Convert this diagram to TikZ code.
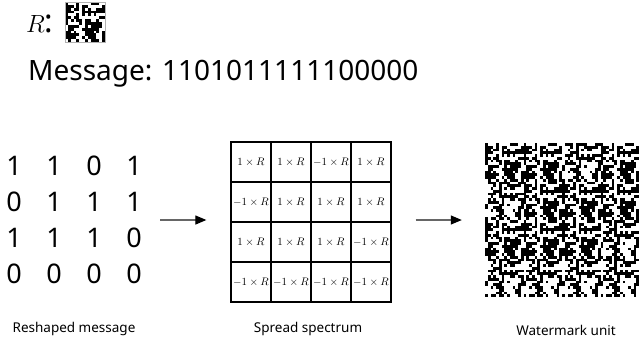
\documentclass[tikz,border=0pt]{standalone}
\usepackage{fontspec}
\setmainfont{Noto Sans}
\usetikzlibrary{arrows.meta}

% message bits, one row of the reshaped 4x4 block per entry
\newcommand{\bitrows}{{1,1,0,1},{0,1,1,1},{1,1,1,0},{0,0,0,0}}

\tikzset{
  digit/.style={font=\fontsize{27}{32}\selectfont, inner sep=0pt},
  cellbox/.style={draw, line width=1.3pt, minimum size=40pt, inner sep=0pt, font=\fontsize{11}{13}\selectfont},
  caption/.style={font=\fontsize{13.5}{16}\selectfont},
  arr/.style={draw=black!60, line width=1.2pt, -{Triangle[length=11pt,width=9pt,color=black]}}
}

\begin{document}
\begin{tikzpicture}[x=1pt,y=-1pt]
  \useasboundingbox (0,0) rectangle (639,341);

  % random pattern R (14x14)
  \pgfmathsetseed{4711}
  \foreach \i in {0,...,13}{
    \foreach \j in {0,...,13}{
      \pgfmathrandominteger{\rbit}{0}{1}
      \expandafter\xdef\csname rbit-\i-\j\endcsname{\rbit}
    }
  }

  % top lines
  \node[anchor=base west, inner sep=0pt, font=\fontsize{32}{36}\selectfont] (rlabel) at (26,32) {$R$:};
  \node[anchor=base west, inner sep=0pt, font=\fontsize{28}{33}\selectfont] (message) at (28,80) {Message: 1101011111100000};
  \foreach \i in {0,...,13}
    \foreach \j in {0,...,13}{
      \ifnum\csname rbit-\i-\j\endcsname=1
        \fill (65+2.857*\j,2+2.857*\i) rectangle ++(2.91,2.91);
      \fi
    }
  \draw[black!30, line width=0.5pt] (65,2) rectangle (105,42);

  % reshaped message and spread spectrum
  \foreach \brow [count=\ti from 0] in \bitrows {
    \foreach \m [count=\tj from 0] in \brow {
      \node[digit] (d-\ti-\tj) at (14+40*\tj,166+36*\ti) {\m};
      \node[cellbox] (c-\ti-\tj) at (251+40*\tj,162+40*\ti)
        {\ifnum\m=1 $1\times R$\else $-1\times R$\fi};
    }
  }
  \node[draw, line width=1.3pt, minimum size=160pt, inner sep=0pt] (spread) at (311,222) {};

  % watermark unit: R tiled, inverted where the bit is 0
  \node[minimum size=154pt, inner sep=0pt] (wm) at (562,220) {};
  \foreach \brow [count=\ti from 0] in \bitrows {
    \foreach \m [count=\tj from 0] in \brow {
      \foreach \i in {0,...,13}
        \foreach \j in {0,...,13}{
          \ifnum\csname rbit-\i-\j\endcsname=\m\relax
            \fill (485+38.5*\tj+2.75*\j,143+38.5*\ti+2.75*\i) rectangle ++(2.8,2.8);
          \fi
        }
    }
  }

  % arrows
  \coordinate (msgend) at (160,220);
  \draw[arr, shorten >=24pt] (msgend) -- (msgend -| spread.west);
  \draw[arr, shorten <=24pt, shorten >=23pt] (wm.west -| spread.east) -- (wm.west);

  % captions
  \node[caption] (cap-msg) at (74,329) {Reshaped message};
  \node[caption] (cap-spread) at (308,329) {Spread spectrum};
  \node[caption] (cap-wm) at (566,330) {Watermark unit};
\end{tikzpicture}
\end{document}
